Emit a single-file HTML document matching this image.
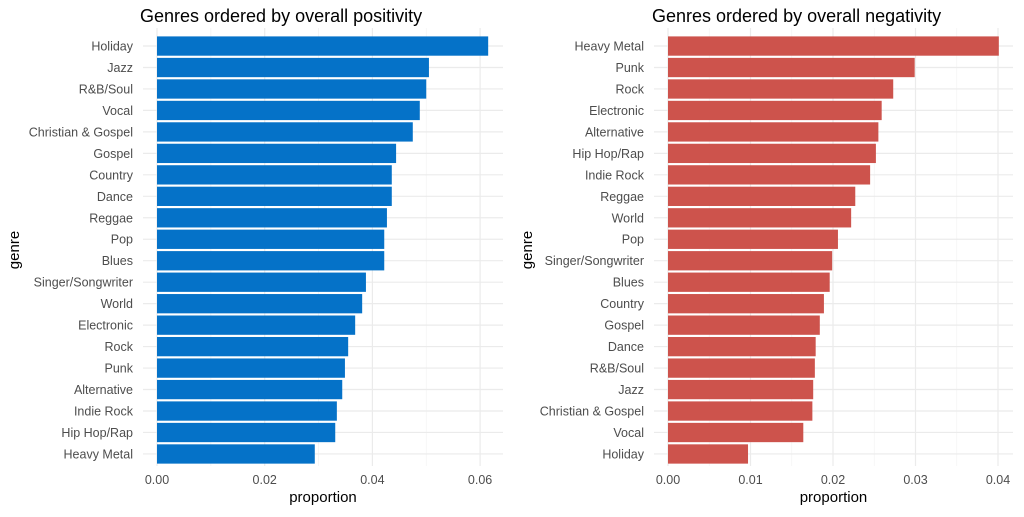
<!DOCTYPE html>
<html><head><meta charset="utf-8"><style>
body{margin:0;background:#fff;font-family:"Liberation Sans",sans-serif}
</style></head><body>
<svg id="c" width="1024" height="512" xmlns="http://www.w3.org/2000/svg"></svg>
<script>
const posCats=["Holiday","Jazz","R&B/Soul","Vocal","Christian & Gospel","Gospel","Country","Dance","Reggae","Pop","Blues","Singer/Songwriter","World","Electronic","Rock","Punk","Alternative","Indie Rock","Hip Hop/Rap","Heavy Metal"];
const posVals=[0.0615,0.0505,0.0500,0.0488,0.0475,0.0444,0.0436,0.0436,0.0427,0.0422,0.0422,0.0388,0.0381,0.0368,0.0355,0.0349,0.0344,0.0334,0.0331,0.0293];
const posTicks=[0,0.02,0.04,0.06];
const posTickLabels=["0.00","0.02","0.04","0.06"];
const negCats=["Heavy Metal","Punk","Rock","Electronic","Alternative","Hip Hop/Rap","Indie Rock","Reggae","World","Pop","Singer/Songwriter","Blues","Country","Gospel","Dance","R&B/Soul","Jazz","Christian & Gospel","Vocal","Holiday"];
const negVals=[0.0401,0.0299,0.0273,0.0259,0.0255,0.0252,0.0245,0.0227,0.0222,0.0206,0.0199,0.0196,0.0189,0.0184,0.0179,0.0178,0.0176,0.0175,0.0164,0.0097];
const negTicks=[0,0.01,0.02,0.03,0.04];
const negTickLabels=["0.00","0.01","0.02","0.03","0.04"];
const NS="http://www.w3.org/2000/svg";
const svg=document.getElementById('c');
function el(t,a,txt){const e=document.createElementNS(NS,t);for(const k in a)e.setAttribute(k,a[k]);if(txt!==undefined)e.textContent=txt;svg.appendChild(e);return e;}
function panel(p){
  const x=v=>p.x0+v*p.scale;
  const y=i=>46+i*21.47;
  // minor grid
  for(let i=0;i<p.ticks.length;i++){
    const m=p.ticks[i]+p.step/2;
    if(x(m)<p.right){const g=el('line',{x1:x(m),x2:x(m),y1:28,y2:466,stroke:'#f3f3f3','stroke-width':0.8});
    
    }
  }
  p.ticks.forEach((t,i)=>{
    const g=el('line',{x1:x(t),x2:x(t),y1:28,y2:466,stroke:'#ebebeb','stroke-width':1.2});
    
    
    const l=el('text',{x:x(t),y:484,'font-size':12.5,fill:'#4d4d4d','text-anchor':'middle'},p.labels[i]);
    
    
  });
  p.cats.forEach((c,i)=>{
    const g=el('line',{x1:p.x0-14,x2:p.right,y1:y(i),y2:y(i),stroke:'#ebebeb','stroke-width':1.2});
    
    
  });
  p.cats.forEach((c,i)=>{
    const b=el('rect',{x:x(0),y:y(i)-9.6,width:p.vals[i]*p.scale,height:19.3,fill:p.color});
    
    
    const l=el('text',{x:p.x0-24,y:y(i)+4.5,'font-size':12.5,fill:'#4d4d4d','text-anchor':'end'},c);
    
    
  });
  const t=el('text',{x:p.titleX,y:22,'font-size':18,fill:'#000'},p.title);
  
  
  const xt=el('text',{x:(p.x0-14+p.right)/2,y:502,'font-size':15,fill:'#000','text-anchor':'middle'},'proportion');
  
  
  const yt=el('text',{x:0,y:0,'font-size':15,fill:'#000','text-anchor':'middle',transform:`translate(${p.gx},250) rotate(-90)`},'genre');
  
  
}
panel({cats:posCats,vals:posVals,ticks:posTicks,labels:posTickLabels,x0:157,scale:5385,step:0.02,right:503,color:'#0572c8',title:'Genres ordered by overall positivity',titleX:140,gx:19});
panel({cats:negCats,vals:negVals,ticks:negTicks,labels:negTickLabels,x0:668,scale:8250,step:0.01,right:1013,color:'#cd534c',title:'Genres ordered by overall negativity',titleX:652,gx:532});
</script>
</body></html>
